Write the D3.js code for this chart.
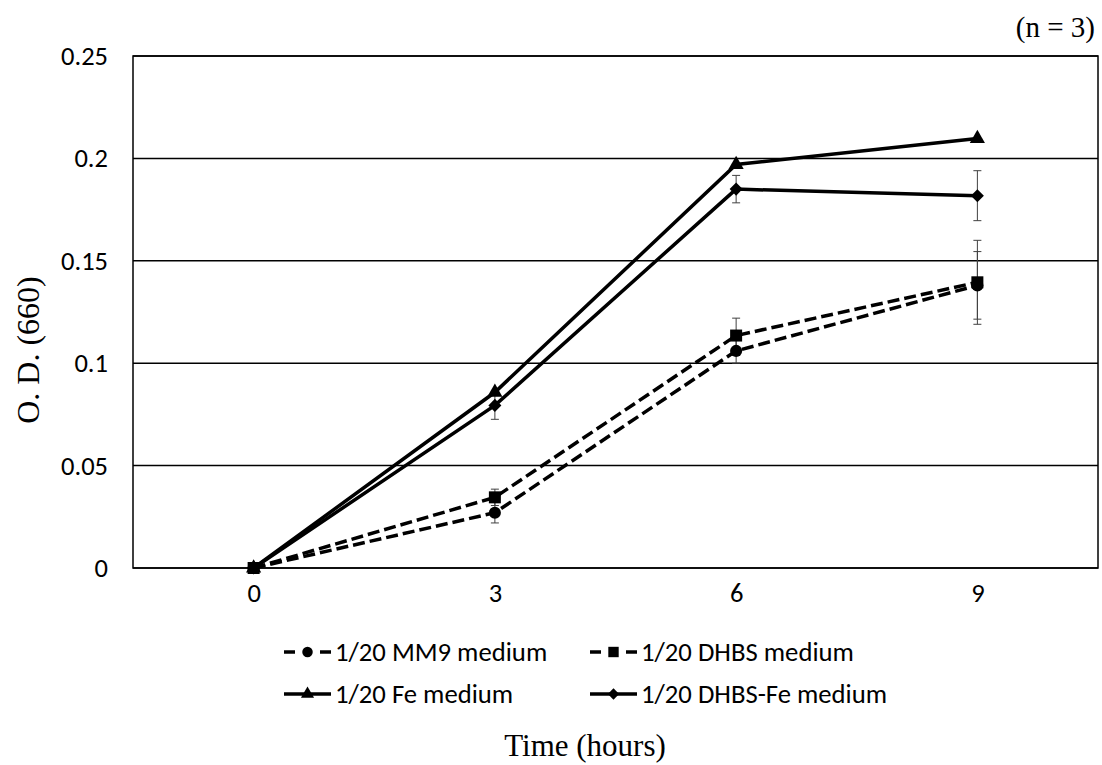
<!doctype html>
<html lang="en">
<head>
<meta charset="utf-8">
<script src="https://cdn.jsdelivr.net/npm/d3@7"></script>
<style>
body { margin: 0; background: #fff; }
svg { display: block; }
.tick text { font-family: Carlito, "Liberation Sans", Arial, sans-serif; font-size: 26.5px; fill: #000; }
.legend text { font-family: Carlito, "Liberation Sans", Arial, sans-serif; font-size: 26.7px; fill: #000; }
.serif { font-family: "Liberation Serif", "Times New Roman", serif; fill: #000; }
</style>
</head>
<body>
<svg width="1102" height="765"></svg>
<script>
// data
var hours = [0, 3, 6, 9];
var yTicks = [0, 0.05, 0.1, 0.15, 0.2, 0.25];

var mm9      = [0, 0.027, 0.106, 0.138];
var mm9Err   = [0, 0.005, 0.006, 0.0165];
var dhbs     = [0, 0.0345, 0.1135, 0.1395];
var dhbsErr  = [0, 0.004, 0.0085, 0.0205];
var fe       = [0, 0.0858, 0.197, 0.2097];
var feErr    = [0, 0, 0, 0];
var dhbsFe   = [0, 0.0794, 0.185, 0.1818];
var dhbsFeErr = [0, 0.0068, 0.0067, 0.0122];

var series = [
    {name: "1/20 MM9 medium", values: mm9, err: mm9Err, dashed: true, marker: "circle"},
    {name: "1/20 DHBS medium", values: dhbs, err: dhbsErr, dashed: true, marker: "square"},
    {name: "1/20 Fe medium", values: fe, err: feErr, dashed: false, marker: "triangle"},
    {name: "1/20 DHBS-Fe medium", values: dhbsFe, err: dhbsFeErr, dashed: false, marker: "diamond"}
];

var svg = d3.select("svg");
var plotLeft = 133, plotRight = 1098, plotTop = 56, plotBottom = 568;

var x = d3.scalePoint().domain(hours).range([plotLeft, plotRight]).padding(0.5);
var y = d3.scaleLinear().domain([0, 0.25]).range([plotBottom, plotTop]);

// gridlines
svg.append("g").selectAll("line")
    .data(yTicks)
    .join("line")
    .attr("x1", plotLeft).attr("x2", plotRight)
    .attr("y1", d => y(d)).attr("y2", d => y(d))
    .attr("stroke", "#000").attr("stroke-width", 1.5);

// plot border
svg.append("rect")
    .attr("x", plotLeft).attr("y", plotTop)
    .attr("width", plotRight - plotLeft).attr("height", plotBottom - plotTop)
    .attr("fill", "none").attr("stroke", "#000").attr("stroke-width", 1.5);

// axes (labels only)
var yAxis = svg.append("g")
    .attr("transform", "translate(" + plotLeft + ",0)")
    .call(d3.axisLeft(y).tickValues(yTicks).tickSize(0).tickPadding(25)
        .tickFormat(d => d === 0 ? "0" : String(+d.toFixed(2))));
yAxis.select(".domain").remove();

var xAxis = svg.append("g")
    .attr("transform", "translate(0," + plotBottom + ")")
    .call(d3.axisBottom(x).tickSize(0).tickPadding(15).tickFormat(d3.format("d")));
xAxis.select(".domain").remove();

function markerPath(type, s) {
    var sym = {
        circle: d3.symbolCircle,
        square: d3.symbolSquare,
        triangle: d3.symbolTriangle,
        diamond: d3.symbolSquare
    }[type];
    var size = {circle: 115, square: 144, triangle: 100, diamond: 85}[type];
    return d3.symbol().type(sym).size(size * (s || 1))();
}
function markerRotate(type) {
    return type === "diamond" ? " rotate(45)" : "";
}

var line = d3.line()
    .x((d, i) => x(hours[i]))
    .y(d => y(d));

// lines
svg.append("g").selectAll("path")
    .data(series)
    .join("path")
    .attr("d", d => line(d.values))
    .attr("fill", "none")
    .attr("stroke", "#000")
    .attr("stroke-width", 3.5)
    .attr("stroke-dasharray", d => d.dashed ? "12,5" : null);

// error bars
series.forEach(function(s) {
    var g = svg.append("g").attr("stroke", "#404040").attr("stroke-width", 1);
    s.values.forEach(function(v, i) {
        var e = s.err[i];
        if (!e) return;
        var cx = x(hours[i]);
        g.append("line").attr("x1", cx).attr("x2", cx).attr("y1", y(v - e)).attr("y2", y(v + e));
        g.append("line").attr("x1", cx - 4).attr("x2", cx + 4).attr("y1", y(v - e)).attr("y2", y(v - e));
        g.append("line").attr("x1", cx - 4).attr("x2", cx + 4).attr("y1", y(v + e)).attr("y2", y(v + e));
    });
});

// markers (squares drawn last, they sit on top at t = 0)
var markerOrder = [0, 2, 3, 1];
markerOrder.forEach(function(k) {
    var s = series[k];
    svg.append("g").selectAll("path")
        .data(s.values)
        .join("path")
        .attr("transform", (d, i) => "translate(" + x(hours[i]) + "," + y(d) + ")" + markerRotate(s.marker))
        .attr("d", markerPath(s.marker))
        .attr("fill", "#000");
});

// legend
var legendPos = [[284, 652], [590, 652], [284, 694], [590, 694]];
var legend = svg.append("g").attr("class", "legend");
series.forEach(function(s, i) {
    var p = legendPos[i];
    var g = legend.append("g").attr("transform", "translate(" + p[0] + "," + p[1] + ")");
    var segs = s.dashed ? [[0, 11], [36, 47]] : [[0, 47]];
    segs.forEach(function(sg) {
        g.append("line").attr("x1", sg[0]).attr("x2", sg[1]).attr("y1", 0).attr("y2", 0)
            .attr("stroke", "#000").attr("stroke-width", 3.5);
    });
    g.append("path").attr("transform", "translate(23.5,0)" + markerRotate(s.marker))
        .attr("d", markerPath(s.marker, 0.75)).attr("fill", "#000");
    g.append("text").attr("x", 51).attr("y", 0).attr("dy", "0.35em").text(s.name);
});

// titles
svg.append("text").attr("class", "serif")
    .attr("x", 585).attr("y", 756)
    .attr("text-anchor", "middle")
    .style("font-size", "31px")
    .text("Time (hours)");

svg.append("text").attr("class", "serif")
    .attr("transform", "translate(39,350) rotate(-90)")
    .attr("text-anchor", "middle")
    .style("font-size", "32px")
    .text("O. D. (660)");

svg.append("text").attr("class", "serif")
    .attr("x", 1095).attr("y", 37)
    .attr("text-anchor", "end")
    .style("font-size", "29px")
    .text("(n = 3)");
</script>
</body>
</html>
